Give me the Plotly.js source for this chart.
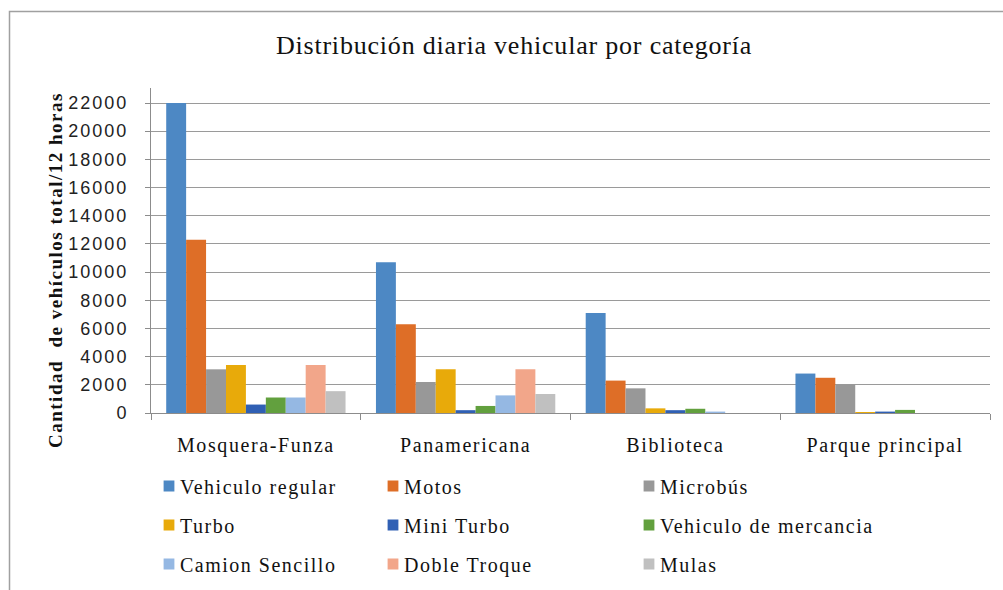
<!DOCTYPE html>
<html>
<head>
<meta charset="utf-8">
<script src="https://cdn.plot.ly/plotly-3.0.1.min.js"></script>
<style>
html,body{margin:0;padding:0;background:#fff;}
#chart{width:1003px;height:590px;}
.legendtext, .legend2text, .legend3text{letter-spacing:1.5px;}
.xtick text{letter-spacing:1.6px;}
.ytick text{letter-spacing:2px;}
.gtitle{letter-spacing:0.8px;}
.annotation-text{letter-spacing:1.5px;}
.legendpoints path{transform:translate(29px,0px) scale(0.9);}
</style>
</head>
<body>
<div id="chart"></div>
<script>
const categories = ["Mosquera-Funza", "Panamericana", "Biblioteca", "Parque principal"];
const seriesNames = ["Vehiculo regular", "Motos", "Microbús", "Turbo", "Mini Turbo",
  "Vehiculo de mercancia", "Camion Sencillo", "Doble Troque", "Mulas"];
const vehiculoRegular = [22000, 10700, 7100, 2800];
const motos = [12300, 6300, 2300, 2500];
const microbus = [3100, 2200, 1750, 2000];
const turbo = [3400, 3100, 330, 70];
const miniTurbo = [600, 200, 200, 100];
const mercancia = [1100, 500, 300, 220];
const camionSencillo = [1100, 1250, 100, 0];
const dobleTroque = [3400, 3100, 0, 0];
const mulas = [1550, 1350, 0, 0];
const yTicks = [0, 2000, 4000, 6000, 8000, 10000, 12000, 14000, 16000, 18000, 20000, 22000];

const seriesValues = [vehiculoRegular, motos, microbus, turbo, miniTurbo, mercancia, camionSencillo, dobleTroque, mulas];
const colors = ['#4D88C4', '#DE6E27', '#989898', '#E8AA0A', '#3060B4', '#62A03E', '#95B8E3', '#F2A68A', '#C0C0C0'];
const legendOf = ['legend', 'legend2', 'legend3'];

const traces = seriesNames.map((name, i) => ({
  type: 'bar',
  name: name,
  x: categories,
  y: seriesValues[i],
  marker: {color: colors[i], line: {width: 0}},
  legend: legendOf[i % 3],
  legendgroup: 'g' + i,
  hoverinfo: 'x+y+name'
}));

const W = 1003, H = 590;
const L = 151, R = 13, T = 88, B = 177;
const pw = W - L - R, ph = H - T - B;
const px = v => (v - L) / pw;
const py = v => (H - B - v) / ph;

const serif = 'Liberation Serif, Times New Roman, serif';
const legendFont = {family: serif, size: 20, color: '#111'};
function legendAt(xpx) {
  return {
    x: xpx / W, xref: 'container', xanchor: 'left',
    y: 1 - 466.5 / H, yref: 'container', yanchor: 'top',
    orientation: 'v', font: legendFont, tracegroupgap: 10,
    bgcolor: 'rgba(0,0,0,0)', borderwidth: 0, itemclick: false
  };
}

const layout = {
  width: W, height: H,
  margin: {l: L, r: R, t: T, b: B, autoexpand: false},
  paper_bgcolor: '#fff', plot_bgcolor: '#fff',
  title: {
    text: 'Distribución diaria vehicular por categoría',
    font: {family: serif, size: 26, color: '#111'},
    x: 514 / W, xref: 'container', xanchor: 'center',
    y: 1 - 45 / H, yref: 'container', yanchor: 'middle'
  },
  barmode: 'group', bargap: 0.145, bargroupgap: 0,
  xaxis: {
    type: 'category',
    tickson: 'boundaries', ticks: 'outside', ticklen: 6, tickcolor: '#8c8c8c',
    showline: true, linecolor: '#8c8c8c', linewidth: 1,
    showgrid: false, zeroline: false,
    ticklabelstandoff: 14,
    tickfont: {family: serif, size: 20, color: '#111'}
  },
  yaxis: {
    range: [0, 22000 * ph / 310],
    tickmode: 'array', tickvals: yTicks, ticktext: yTicks.map(String),
    ticks: 'outside', ticklen: 5, tickcolor: '#8c8c8c',
    showline: true, linecolor: '#8c8c8c', linewidth: 1,
    showgrid: true, gridcolor: '#9a9a9a', gridwidth: 1,
    zeroline: false,
    ticklabelstandoff: 13,
    tickfont: {family: 'Liberation Sans, Arial, sans-serif', size: 18, color: '#222'}
  },
  legend: legendAt(140),
  legend2: legendAt(364),
  legend3: legendAt(620),
  annotations: [{
    text: 'Cantidad  de vehículos total/12 horas',
    xref: 'paper', yref: 'paper', x: px(55), y: py(270),
    xanchor: 'center', yanchor: 'middle', textangle: -90, showarrow: false,
    font: {family: serif, size: 19, color: '#111', weight: 'bold'}
  }],
  shapes: [{
    type: 'rect', xref: 'paper', yref: 'paper',
    x0: px(9.5), x1: px(1015), y0: py(605), y1: py(11.5),
    line: {color: '#a0a0a0', width: 1.5}, fillcolor: 'rgba(0,0,0,0)', layer: 'below'
  }],
  showlegend: true
};

Plotly.newPlot('chart', traces, layout, {displayModeBar: false, staticPlot: true});
</script>
</body>
</html>
